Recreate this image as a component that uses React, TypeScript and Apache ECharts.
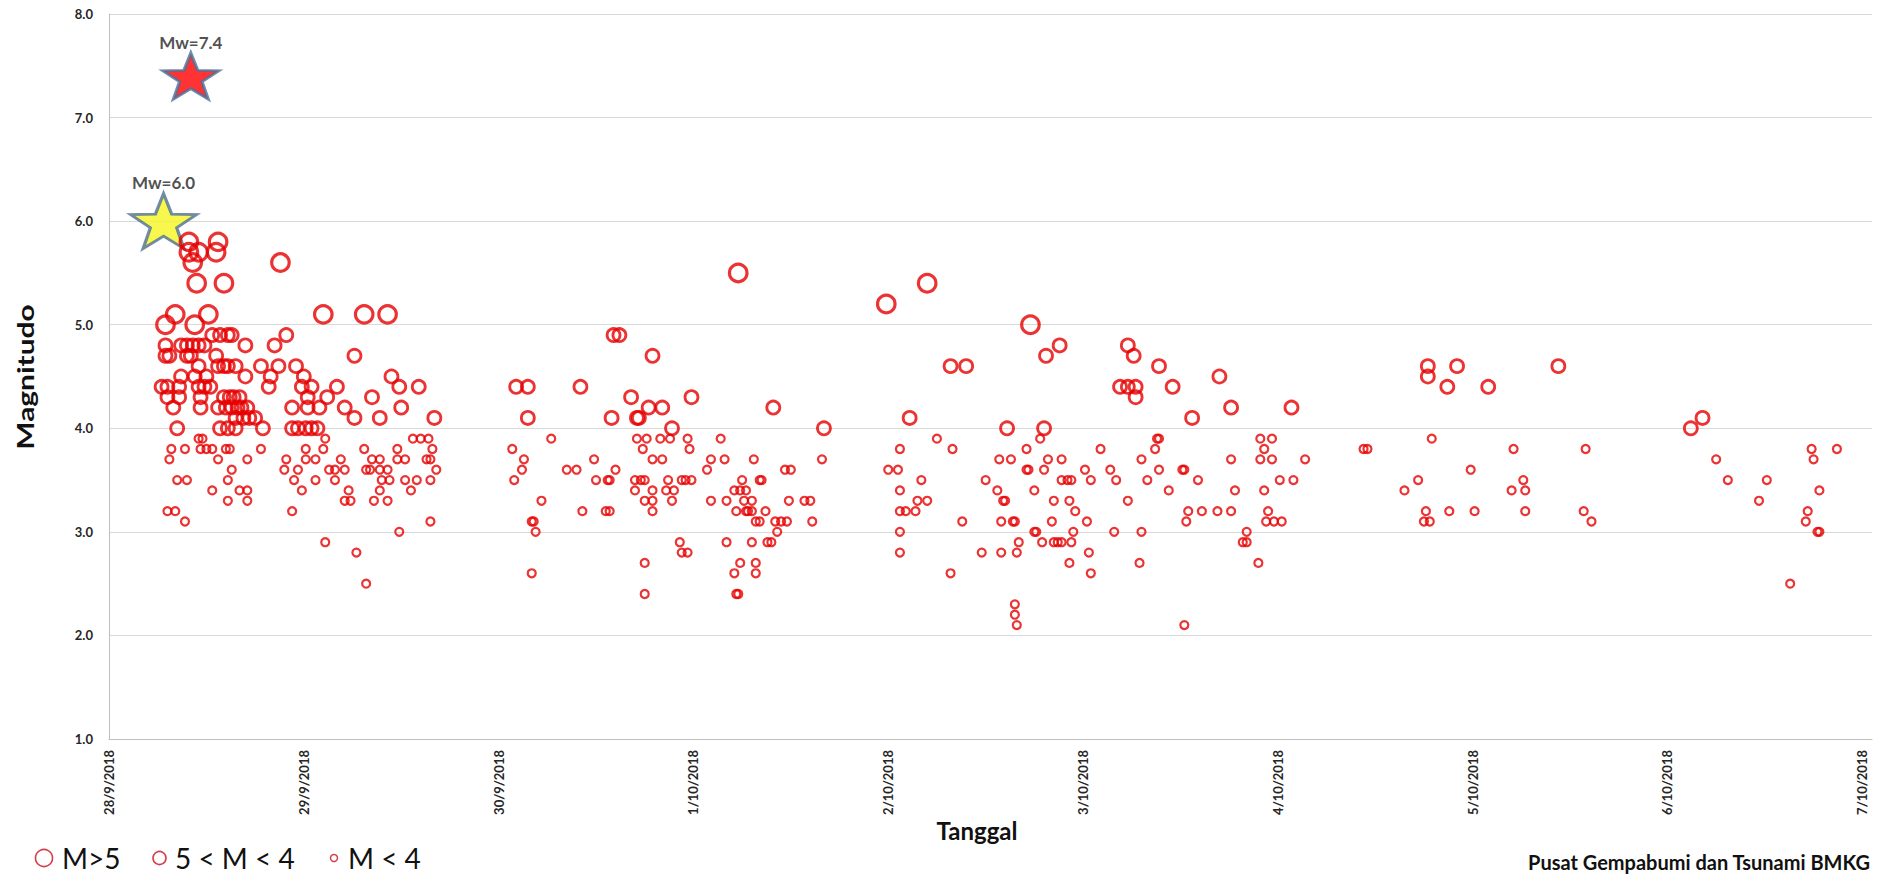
import React, { useEffect, useRef } from "react";
import * as echarts from "echarts";

// x values are days after 28/9/2018 00:00, y values are magnitudes
const dateLabels = [
  "28/9/2018", "29/9/2018", "30/9/2018", "1/10/2018", "2/10/2018",
  "3/10/2018", "4/10/2018", "5/10/2018", "6/10/2018", "7/10/2018",
];
const yTicks = [1, 2, 3, 4, 5, 6, 7, 8];

const mainshockDays = [0.28, 0.42];
const mainshockMags = [6.0, 7.4];
const mainshockLabels = ["Mw=6.0", "Mw=7.4"];

// M >= 5
const bigQuakes: [number, number][] = [
  [0.41, 5.8], [0.56, 5.8], [0.41, 5.7], [0.46, 5.7], [0.55, 5.7], [0.43, 5.6],
  [0.88, 5.6], [0.45, 5.4], [0.59, 5.4], [0.34, 5.1], [0.51, 5.1], [1.10, 5.1],
  [1.31, 5.1], [1.43, 5.1], [0.29, 5.0], [0.44, 5.0], [3.23, 5.5], [3.99, 5.2],
  [4.20, 5.4], [4.73, 5.0],
];

// 4 <= M < 5
const mediumQuakes: [number, number][] = [
  [0.53, 4.9], [0.57, 4.9], [0.61, 4.9], [0.63, 4.9], [0.91, 4.9],
  [0.29, 4.8], [0.37, 4.8], [0.40, 4.8], [0.43, 4.8], [0.46, 4.8], [0.49, 4.8], [0.70, 4.8], [0.85, 4.8],
  [0.29, 4.7], [0.31, 4.7], [0.40, 4.7], [0.42, 4.7], [0.55, 4.7], [1.26, 4.7],
  [0.46, 4.6], [0.56, 4.6], [0.59, 4.6], [0.61, 4.6], [0.65, 4.6], [0.78, 4.6], [0.87, 4.6], [0.96, 4.6],
  [0.37, 4.5], [0.44, 4.5], [0.50, 4.5], [0.70, 4.5], [0.83, 4.5], [1.00, 4.5], [1.45, 4.5],
  [0.27, 4.4], [0.30, 4.4], [0.36, 4.4], [0.46, 4.4], [0.49, 4.4], [0.52, 4.4], [0.82, 4.4], [0.99, 4.4],
  [1.04, 4.4], [1.17, 4.4], [1.49, 4.4], [1.59, 4.4],
  [0.30, 4.3], [0.36, 4.3], [0.47, 4.3], [0.59, 4.3], [0.62, 4.3], [0.64, 4.3], [0.67, 4.3], [1.02, 4.3],
  [1.12, 4.3], [1.35, 4.3],
  [0.33, 4.2], [0.47, 4.2], [0.56, 4.2], [0.60, 4.2], [0.63, 4.2], [0.66, 4.2], [0.68, 4.2], [0.71, 4.2],
  [0.94, 4.2], [1.02, 4.2], [1.08, 4.2], [1.21, 4.2], [1.50, 4.2],
  [0.65, 4.1], [0.69, 4.1], [0.72, 4.1], [0.75, 4.1], [1.26, 4.1], [1.39, 4.1], [1.67, 4.1],
  [0.35, 4.0], [0.57, 4.0], [0.61, 4.0], [0.65, 4.0], [0.79, 4.0], [0.94, 4.0], [0.97, 4.0], [1.01, 4.0],
  [1.04, 4.0], [1.07, 4.0],
  [2.59, 4.9], [2.62, 4.9], [2.79, 4.7], [2.09, 4.4], [2.15, 4.4], [2.42, 4.4], [2.68, 4.3], [2.99, 4.3],
  [2.77, 4.2], [2.84, 4.2], [3.41, 4.2], [2.15, 4.1], [2.58, 4.1], [2.71, 4.1], [2.72, 4.1], [2.89, 4.0],
  [3.67, 4.0],
  [4.88, 4.8], [5.23, 4.8], [4.81, 4.7], [5.26, 4.7], [4.32, 4.6], [4.40, 4.6], [5.39, 4.6], [5.70, 4.5],
  [5.19, 4.4], [5.23, 4.4], [5.27, 4.4], [5.46, 4.4], [5.27, 4.3], [5.76, 4.2], [6.07, 4.2], [5.56, 4.1],
  [4.11, 4.1], [4.61, 4.0], [4.80, 4.0],
  [6.77, 4.6], [6.92, 4.6], [7.44, 4.6], [6.77, 4.5], [6.87, 4.4], [7.08, 4.4], [8.12, 4.0], [8.18, 4.1],
];

// M < 4
const smallQuakes: [number, number][] = [
  [0.46, 3.9], [0.48, 3.9], [1.11, 3.9], [1.56, 3.9], [1.60, 3.9], [1.64, 3.9],
  [0.32, 3.8], [0.39, 3.8], [0.47, 3.8], [0.50, 3.8], [0.53, 3.8], [0.60, 3.8], [0.62, 3.8], [0.78, 3.8],
  [1.01, 3.8], [1.10, 3.8], [1.31, 3.8], [1.48, 3.8], [1.66, 3.8],
  [0.31, 3.7], [0.56, 3.7], [0.71, 3.7], [0.91, 3.7], [1.01, 3.7], [1.06, 3.7], [1.19, 3.7], [1.35, 3.7],
  [1.39, 3.7], [1.48, 3.7], [1.52, 3.7], [1.63, 3.7], [1.65, 3.7],
  [0.63, 3.6], [0.90, 3.6], [0.97, 3.6], [1.13, 3.6], [1.16, 3.6], [1.21, 3.6], [1.32, 3.6], [1.34, 3.6],
  [1.39, 3.6], [1.43, 3.6], [1.68, 3.6],
  [0.35, 3.5], [0.40, 3.5], [0.61, 3.5], [0.95, 3.5], [1.06, 3.5], [1.16, 3.5], [1.40, 3.5], [1.44, 3.5],
  [1.52, 3.5], [1.58, 3.5], [1.65, 3.5],
  [0.53, 3.4], [0.67, 3.4], [0.71, 3.4], [0.99, 3.4], [1.23, 3.4], [1.39, 3.4], [1.55, 3.4],
  [0.61, 3.3], [0.71, 3.3], [1.21, 3.3], [1.24, 3.3], [1.36, 3.3], [1.43, 3.3],
  [0.30, 3.2], [0.34, 3.2], [0.94, 3.2], [0.39, 3.1], [1.65, 3.1], [1.49, 3.0], [1.11, 2.9], [1.27, 2.8],
  [1.32, 2.5],
  [2.27, 3.9], [2.71, 3.9], [2.76, 3.9], [2.83, 3.9], [2.88, 3.9], [2.97, 3.9], [3.14, 3.9],
  [2.07, 3.8], [2.74, 3.8], [2.98, 3.8],
  [2.13, 3.7], [2.49, 3.7], [2.79, 3.7], [2.84, 3.7], [3.09, 3.7], [3.16, 3.7], [3.31, 3.7], [3.66, 3.7],
  [2.12, 3.6], [2.35, 3.6], [2.40, 3.6], [2.60, 3.6], [3.07, 3.6], [3.47, 3.6], [3.50, 3.6], [4.00, 3.6],
  [2.08, 3.5], [2.50, 3.5], [2.56, 3.5], [2.57, 3.5], [2.70, 3.5], [2.73, 3.5], [2.75, 3.5], [2.87, 3.5],
  [2.94, 3.5], [2.96, 3.5], [2.99, 3.5], [3.25, 3.5], [3.34, 3.5], [3.35, 3.5],
  [2.70, 3.4], [2.79, 3.4], [2.86, 3.4], [2.90, 3.4], [3.21, 3.4], [3.24, 3.4], [3.27, 3.4],
  [2.22, 3.3], [2.75, 3.3], [2.79, 3.3], [2.89, 3.3], [3.09, 3.3], [3.17, 3.3], [3.26, 3.3], [3.30, 3.3],
  [3.49, 3.3], [3.57, 3.3], [3.60, 3.3],
  [2.43, 3.2], [2.55, 3.2], [2.57, 3.2], [2.79, 3.2], [3.22, 3.2], [3.27, 3.2], [3.28, 3.2], [3.30, 3.2],
  [3.37, 3.2],
  [2.17, 3.1], [2.18, 3.1], [3.32, 3.1], [3.34, 3.1], [3.42, 3.1], [3.45, 3.1], [3.48, 3.1], [3.61, 3.1],
  [2.19, 3.0], [3.43, 3.0],
  [2.93, 2.9], [3.17, 2.9], [3.30, 2.9], [3.38, 2.9], [3.40, 2.9], [2.94, 2.8], [2.97, 2.8],
  [2.75, 2.7], [3.24, 2.7], [3.32, 2.7], [2.17, 2.6], [3.21, 2.6], [3.32, 2.6],
  [2.75, 2.4], [3.22, 2.4], [3.23, 2.4],
  [4.25, 3.9], [4.78, 3.9], [5.38, 3.9], [5.39, 3.9], [5.91, 3.9], [5.97, 3.9],
  [4.06, 3.8], [4.33, 3.8], [4.71, 3.8], [5.09, 3.8], [5.37, 3.8], [5.93, 3.8], [6.44, 3.8], [6.46, 3.8],
  [4.57, 3.7], [4.63, 3.7], [4.82, 3.7], [4.89, 3.7], [5.30, 3.7], [5.76, 3.7], [5.91, 3.7], [5.97, 3.7],
  [6.14, 3.7],
  [4.05, 3.6], [4.71, 3.6], [4.72, 3.6], [4.80, 3.6], [5.01, 3.6], [5.14, 3.6], [5.39, 3.6], [5.51, 3.6],
  [5.52, 3.6],
  [4.17, 3.5], [4.50, 3.5], [4.89, 3.5], [4.92, 3.5], [4.94, 3.5], [5.04, 3.5], [5.17, 3.5], [5.33, 3.5],
  [5.59, 3.5], [6.01, 3.5], [6.08, 3.5],
  [4.06, 3.4], [4.56, 3.4], [4.75, 3.4], [5.44, 3.4], [5.78, 3.4], [5.93, 3.4],
  [4.15, 3.3], [4.20, 3.3], [4.59, 3.3], [4.60, 3.3], [4.85, 3.3], [4.93, 3.3], [5.23, 3.3],
  [4.06, 3.2], [4.09, 3.2], [4.14, 3.2], [4.96, 3.2], [5.54, 3.2], [5.61, 3.2], [5.69, 3.2], [5.76, 3.2],
  [5.95, 3.2],
  [4.38, 3.1], [4.58, 3.1], [4.64, 3.1], [4.65, 3.1], [4.84, 3.1], [5.02, 3.1], [5.53, 3.1], [5.94, 3.1],
  [5.98, 3.1], [6.02, 3.1],
  [4.06, 3.0], [4.75, 3.0], [4.76, 3.0], [4.95, 3.0], [5.16, 3.0], [5.30, 3.0], [5.84, 3.0],
  [4.67, 2.9], [4.79, 2.9], [4.85, 2.9], [4.87, 2.9], [4.89, 2.9], [4.94, 2.9], [5.82, 2.9], [5.84, 2.9],
  [4.06, 2.8], [4.48, 2.8], [4.58, 2.8], [4.66, 2.8], [5.03, 2.8],
  [4.93, 2.7], [5.29, 2.7], [5.90, 2.7], [4.32, 2.6], [5.04, 2.6],
  [4.65, 2.3], [4.65, 2.2], [4.66, 2.1], [5.52, 2.1],
  [6.79, 3.9], [7.21, 3.8], [7.58, 3.8], [8.74, 3.8], [8.87, 3.8], [8.75, 3.7], [8.25, 3.7], [6.99, 3.6],
  [6.72, 3.5], [7.26, 3.5], [8.31, 3.5], [8.51, 3.5], [6.65, 3.4], [7.20, 3.4], [7.27, 3.4], [8.78, 3.4],
  [8.47, 3.3], [6.76, 3.2], [6.88, 3.2], [7.01, 3.2], [7.27, 3.2], [7.57, 3.2], [8.72, 3.2],
  [6.75, 3.1], [6.78, 3.1], [7.61, 3.1], [8.71, 3.1], [8.77, 3.0], [8.78, 3.0], [8.63, 2.5],
];

const legendNames = ["M>5", "5 < M < 4", "M < 4"];

const FONT = "Lato, 'Open Sans', sans-serif";
const RED = "#e60000";

function starPath(): string {
  const pts: string[] = [];
  for (let k = 0; k < 10; k++) {
    const a = ((-90 + 36 * k) * Math.PI) / 180;
    const r = k % 2 === 0 ? 100 : 40;
    pts.push(`${(r * Math.cos(a)).toFixed(2)} ${(r * Math.sin(a)).toFixed(2)}`);
  }
  return "path://M" + pts.join(" L") + " Z";
}

export default function App() {
  const ref = useRef<HTMLDivElement>(null);
  useEffect(() => {
    if (!ref.current) return;
    const chart = echarts.init(ref.current, undefined, { renderer: "svg" });
    const star = starPath();
    const starFills = ["#f5f522", "#ff0000"];
    const starSizes = [
      [66, 55],
      [56, 46],
    ];
    const circle = (size: number, bw: number) => ({
      symbol: "circle",
      symbolSize: size,
      itemStyle: { color: "rgba(255,255,255,0)", borderColor: RED, borderWidth: bw },
    });
    const legendY = 858;
    const txt = (text: string, x: number, y: number, font: string, align: string, extra: any = {}) => ({
      type: "text",
      x,
      y,
      ...extra,
      style: {
        text,
        font,
        fill: "#111",
        align,
        textAlign: align,
        verticalAlign: "middle",
        textVerticalAlign: "middle",
      },
    });
    const option: any = {
      animation: false,
      backgroundColor: "#ffffff",
      grid: { left: 109, right: 6, top: 14, bottom: 135, containLabel: false },
      xAxis: {
        type: "value",
        min: 0,
        max: 9.05,
        interval: 1,
        axisLine: { show: true, lineStyle: { color: "#bfbfbf", width: 1 } },
        axisTick: { show: false },
        splitLine: { show: false },
        axisLabel: {
          rotate: 90,
          margin: 11,
          fontFamily: FONT,
          fontWeight: "bold",
          fontSize: 13,
          color: "#262626",
          showMinLabel: true,
          showMaxLabel: false,
          formatter: (v: number) => (Number.isInteger(v) && dateLabels[v] ? dateLabels[v] : ""),
        },
      },
      yAxis: {
        type: "value",
        min: yTicks[0],
        max: yTicks[yTicks.length - 1],
        interval: 1,
        axisLine: { show: true, lineStyle: { color: "#bfbfbf", width: 1 } },
        axisTick: { show: false },
        splitLine: { show: true, lineStyle: { color: "#d9d9d9", width: 1 } },
        axisLabel: {
          margin: 16,
          fontFamily: FONT,
          fontWeight: "bold",
          fontSize: 13,
          color: "#262626",
          formatter: (v: number) => v.toFixed(1),
        },
      },
      series: [
        {
          type: "scatter",
          name: "mainshock",
          z: 1,
          symbol: star,
          data: mainshockDays.map((d, i) => ({
            value: [d, mainshockMags[i]],
            symbolSize: starSizes[i],
            itemStyle: { color: starFills[i], borderColor: "#4e6f98", borderWidth: 3 },
          })),
          label: {
            show: true,
            position: "top",
            distance: 1,
            fontFamily: FONT,
            fontWeight: "bold",
            fontSize: 17,
            color: "#222",
            formatter: (p: any) => mainshockLabels[p.dataIndex],
          },
        },
        { type: "scatter", name: legendNames[0], z: 3, data: bigQuakes, ...circle(17.5, 3.2) },
        { type: "scatter", name: legendNames[1], z: 3, data: mediumQuakes, ...circle(13, 2.8) },
        { type: "scatter", name: legendNames[2], z: 3, data: smallQuakes, ...circle(8, 2.2) },
      ],
      graphic: [
        txt("Magnitudo", 25, 377, `bold 23px ${FONT}`, "center", { rotation: Math.PI / 2, scaleX: 1.3 }),
        txt("Tanggal", 977, 830, `bold 24px ${FONT}`, "center"),
        txt("Pusat Gempabumi dan Tsunami BMKG", 1870, 862, `bold 20px ${FONT}`, "right"),
        { type: "circle", shape: { cx: 44, cy: legendY, r: 8.5 }, style: { fill: "none", stroke: "#d4404e", lineWidth: 1.6 } },
        txt(legendNames[0], 62, legendY, `28px ${FONT}`, "left"),
        { type: "circle", shape: { cx: 159.5, cy: legendY, r: 6.5 }, style: { fill: "none", stroke: "#d4404e", lineWidth: 1.6 } },
        txt(legendNames[1], 175, legendY, `28px ${FONT}`, "left"),
        { type: "circle", shape: { cx: 334, cy: legendY, r: 3.5 }, style: { fill: "none", stroke: "#d4404e", lineWidth: 1.5 } },
        txt(legendNames[2], 348, legendY, `28px ${FONT}`, "left"),
      ],
    };
    chart.setOption(option);
    return () => chart.dispose();
  }, []);
  return (
    <div
      ref={ref}
      style={{ position: "fixed", left: 0, top: 0, width: 1878, height: 874, background: "#fff" }}
    />
  );
}
